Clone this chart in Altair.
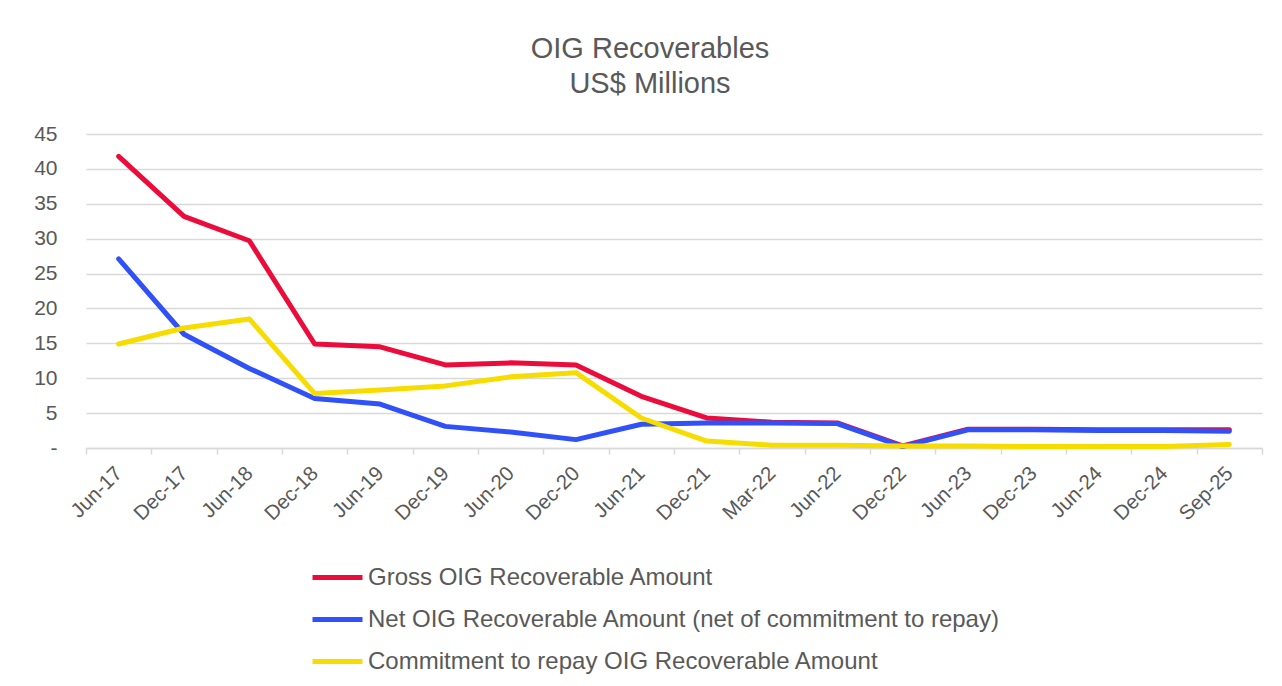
import altair as alt
import pandas as pd

categories = ["Jun-17", "Dec-17", "Jun-18", "Dec-18", "Jun-19", "Dec-19", "Jun-20", "Dec-20",
              "Jun-21", "Dec-21", "Mar-22", "Jun-22", "Dec-22", "Jun-23", "Dec-23", "Jun-24",
              "Dec-24", "Sep-25"]

gross = [41.8, 33.2, 29.7, 14.9, 14.5, 11.9, 12.2, 11.9, 7.4, 4.3, 3.7, 3.6, 0.3, 2.7, 2.7, 2.6, 2.6, 2.6]
net = [27.1, 16.3, 11.4, 7.1, 6.3, 3.1, 2.3, 1.2, 3.4, 3.6, 3.6, 3.5, 0.2, 2.6, 2.6, 2.5, 2.5, 2.4]
commit = [14.9, 17.2, 18.5, 7.8, 8.3, 8.9, 10.2, 10.8, 4.3, 1.0, 0.4, 0.4, 0.3, 0.3, 0.2, 0.2, 0.2, 0.5]

series_names = [
    "Gross OIG Recoverable Amount",
    "Net OIG Recoverable Amount (net of commitment to repay)",
    "Commitment to repay OIG Recoverable Amount",
]
series_colors = ["#EC0C3C", "#3050F8", "#F7DC00"]

rows = []
for name, vals in zip(series_names, [gross, net, commit]):
    for i, (c, v) in enumerate(zip(categories, vals)):
        rows.append({"Period": c, "Value": v, "Series": name, "order": i})
df = pd.DataFrame(rows)

FONT = "Liberation Sans"
GREY = "#595959"

chart = alt.Chart(df).mark_line(strokeWidth=5, strokeCap="round", strokeJoin="round").encode(
    x=alt.X("Period:N", sort=categories, title=None,
            scale=alt.Scale(paddingInner=0, paddingOuter=0),
            axis=alt.Axis(labelAngle=-45, labelAlign="right", labelBaseline="middle",
                          labelFontSize=20.5, labelColor=GREY, labelFont=FONT, labelPadding=16,
                          tickBand="extent", ticks=True, tickSize=6, tickColor="#d9d9d9",
                          tickWidth=1.5, domainColor="#d9d9d9", domainWidth=1.5, grid=False)),
    y=alt.Y("Value:Q", title=None,
            scale=alt.Scale(domain=[0, 45], nice=False),
            axis=alt.Axis(values=list(range(0, 50, 5)), domain=False, ticks=False,
                          gridColor="#d9d9d9", gridWidth=1.5, labelFontSize=21,
                          labelColor=GREY, labelFont=FONT, labelPadding=29,
                          labelExpr="datum.value == 0 ? '-\u00a0\u00a0' : datum.label")),
    color=alt.Color("Series:N", sort=series_names,
                    scale=alt.Scale(domain=series_names, range=series_colors),
                    legend=alt.Legend(title=None, orient="none", legendX=224, legendY=416,
                                      direction="vertical", symbolType="stroke",
                                      symbolSize=2500, symbolStrokeWidth=5,
                                      labelFontSize=24, labelColor=GREY, labelFont=FONT,
                                      rowPadding=2, labelOffset=3, labelLimit=800)),
    order="order:Q",
).properties(
    width=1176,
    height=314,
    autosize=alt.AutoSizeParams(type="none"),
    padding={"left": 78, "top": 126, "right": 12, "bottom": 230},
    title=alt.TitleParams(["OIG Recoverables", "US$ Millions"], anchor="middle",
                          fontSize=29, font=FONT, color=GREY, fontWeight="normal",
                          lineHeight=35, offset=24, dx=-24),
).configure_view(stroke=None)

chart.save("out.html", embed_options={"renderer": "svg", "actions": False})
